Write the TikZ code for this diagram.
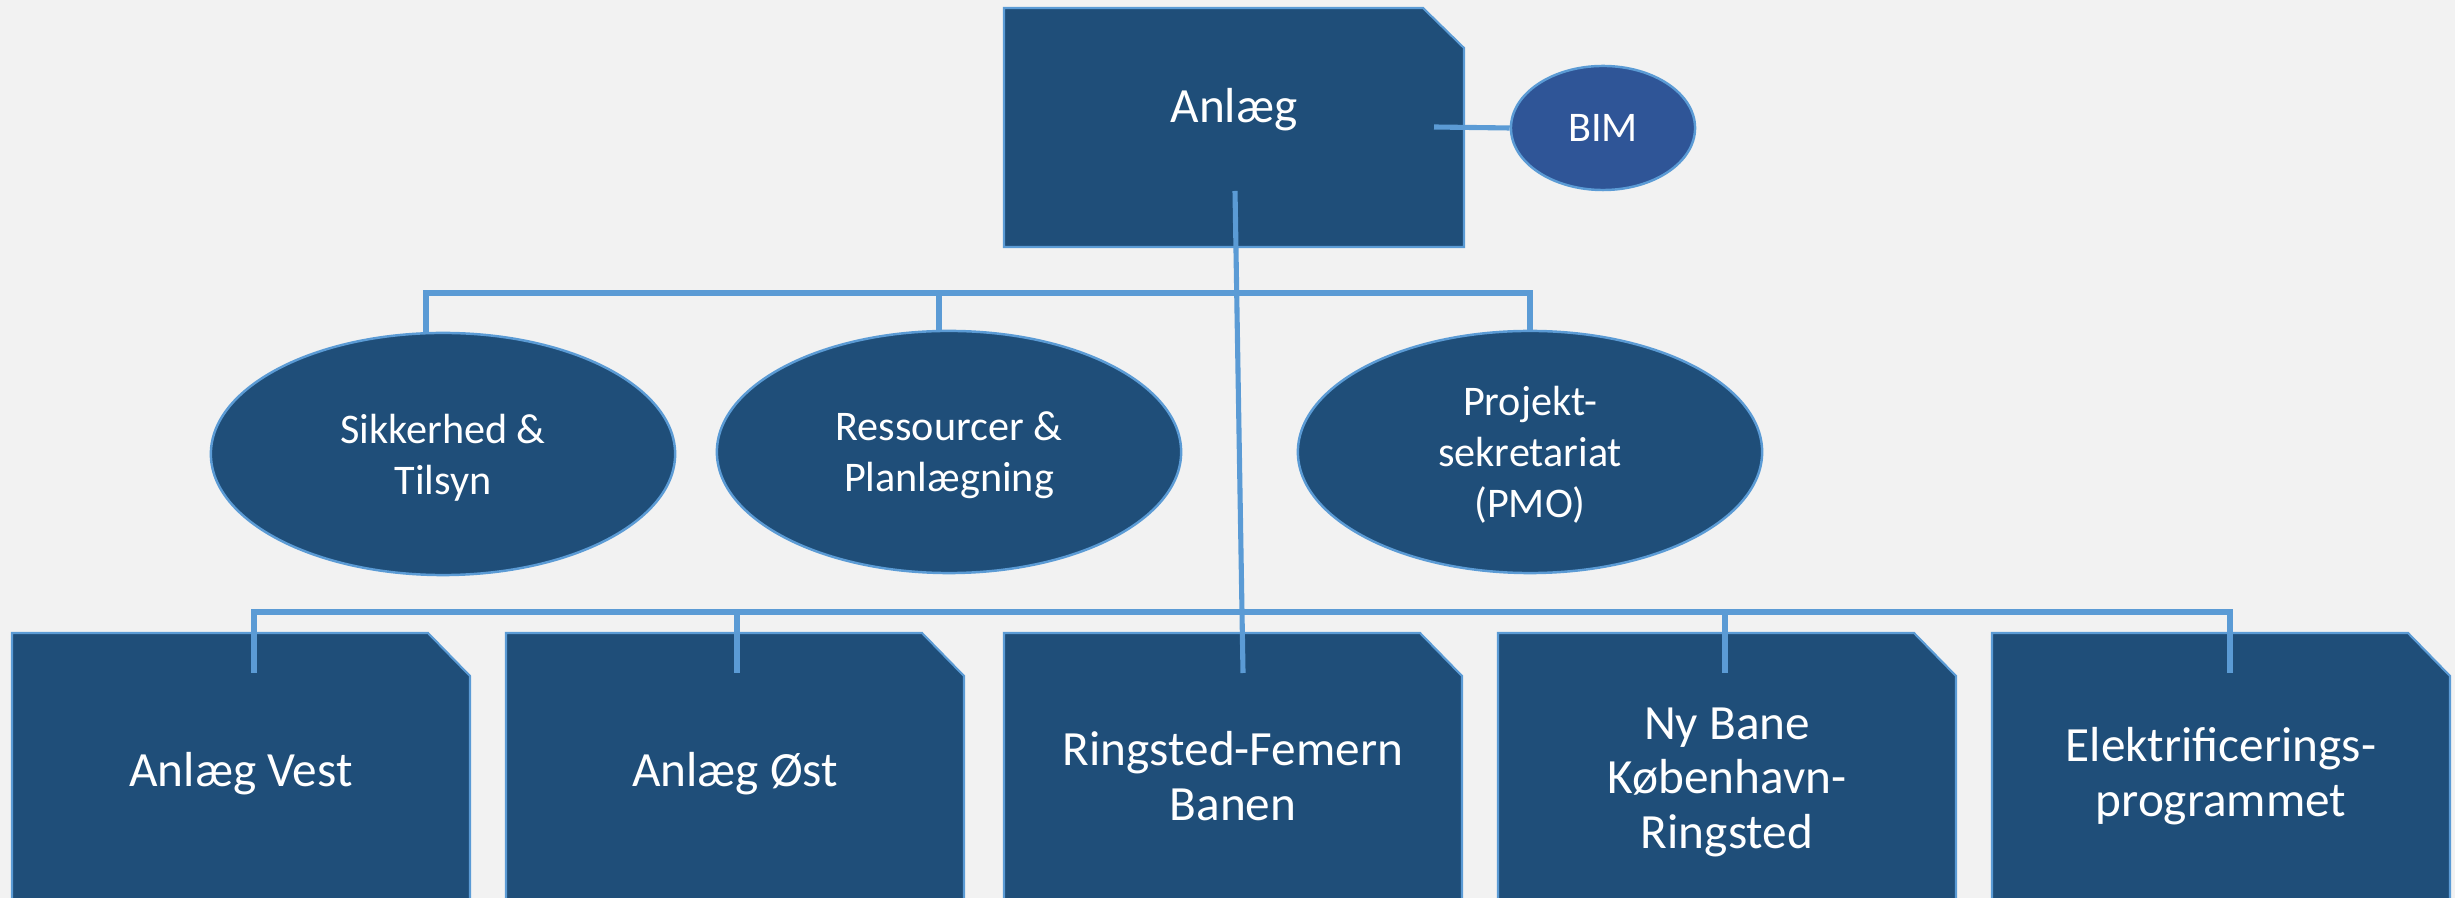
\documentclass[tikz,border=0pt]{standalone}
\usepackage{
	fontspec,			% Fonts
	xcolor				% Colours
}
\setmainfont{Carlito}
\usetikzlibrary{shapes.geometric}

\definecolor{boxblue}{HTML}{1F4E79}
\definecolor{lineblue}{HTML}{5B9BD5}
\definecolor{bimblue}{HTML}{2F5597}
\definecolor{bggray}{HTML}{F2F2F2}

\tikzset{
	snipbox/.style={fill=boxblue, draw=lineblue, line width=0.6pt},
	boxtext/.style={text=white, align=center, font=\fontsize{14}{15.5}\selectfont},
	oval/.style={ellipse, fill=boxblue, draw=lineblue, line width=0.7pt, inner sep=0pt, text depth=0pt, minimum width=4.64cm, minimum height=2.42cm, text=white, align=center, font=\fontsize{12}{14.5}\selectfont},
	link/.style={draw=lineblue, line width=1.45pt}
}

\begin{document}
\begin{tikzpicture}[x=0.01cm, y=-0.01cm]
		\fill[bggray] (0,0) rectangle (2455,898); % Background.
		\clip (0,0) rectangle (2455,898);

		\draw[snipbox] (1004,8) -- (1423,8) -- (1464,48) -- (1464,247) -- (1004,247) -- cycle; % Top box.
		\node[boxtext] (anlaeg) at (1234,110) {Anlæg};
		\node[oval, fill=bimblue, minimum width=1.84cm, minimum height=1.24cm] (bim) at (1603,128) {BIM};

		\node[oval] (sik) at (443,454) {Sikkerhed \&\\Tilsyn};
		\node[oval] (res) at (949,452) {Ressourcer \&\\Planlægning};
		\node[oval] (pmo) at (1530,452) {Projekt-\\sekretariat\\(PMO)};

		\draw[snipbox] (12,633) -- (428,633) -- (470,676) -- (470,910) -- (12,910) -- cycle; % Bottom row.
		\draw[snipbox] (506,633) -- (922,633) -- (964,676) -- (964,910) -- (506,910) -- cycle;
		\draw[snipbox] (1004,633) -- (1420,633) -- (1462,676) -- (1462,910) -- (1004,910) -- cycle;
		\draw[snipbox] (1498,633) -- (1914,633) -- (1956,676) -- (1956,910) -- (1498,910) -- cycle;
		\draw[snipbox] (1992,633) -- (2408,633) -- (2450,676) -- (2450,910) -- (1992,910) -- cycle;

		\node[boxtext] (vest) at (241,774) {Anlæg Vest};
		\node[boxtext] (oest) at (735,774) {Anlæg Øst};
		\node[boxtext] (femern) at (1233,776) {Ringsted-Femern\\Banen};
		\node[boxtext] (nybane) at (1727,782) {Ny Bane\\København-\\Ringsted};
		\node[boxtext] (elek) at (2221,776) {Elektrificerings-\\programmet};

		\coordinate (bimlink) at (1434,127);
		\coordinate (stemtop) at (1235,191);
		\coordinate (stembot) at (1243,673);
		\coordinate (busA) at (426,293);
		\coordinate (busR) at (939,293);
		\coordinate (busB) at (1530,293);
		\coordinate (busL) at (254,612);
		\coordinate (busO) at (737,612);
		\coordinate (busN) at (1725,612);
		\coordinate (busE) at (2230,612);

		\draw[link] (bimlink) -- (bim.west);
		\draw[link] (stemtop) -- (stembot); % Main stem.
		\draw[link] (busA |- sik.north) -- (busA) -- (busB) -- (pmo.north);
		\draw[link] (busR) -- (busR |- res.north);
		\draw[link] (busL |- stembot) -- (busL) -- (busE) -- (busE |- stembot);
		\draw[link] (busO) -- (busO |- stembot);
		\draw[link] (busN) -- (busN |- stembot);
	\end{tikzpicture}
\end{document}
